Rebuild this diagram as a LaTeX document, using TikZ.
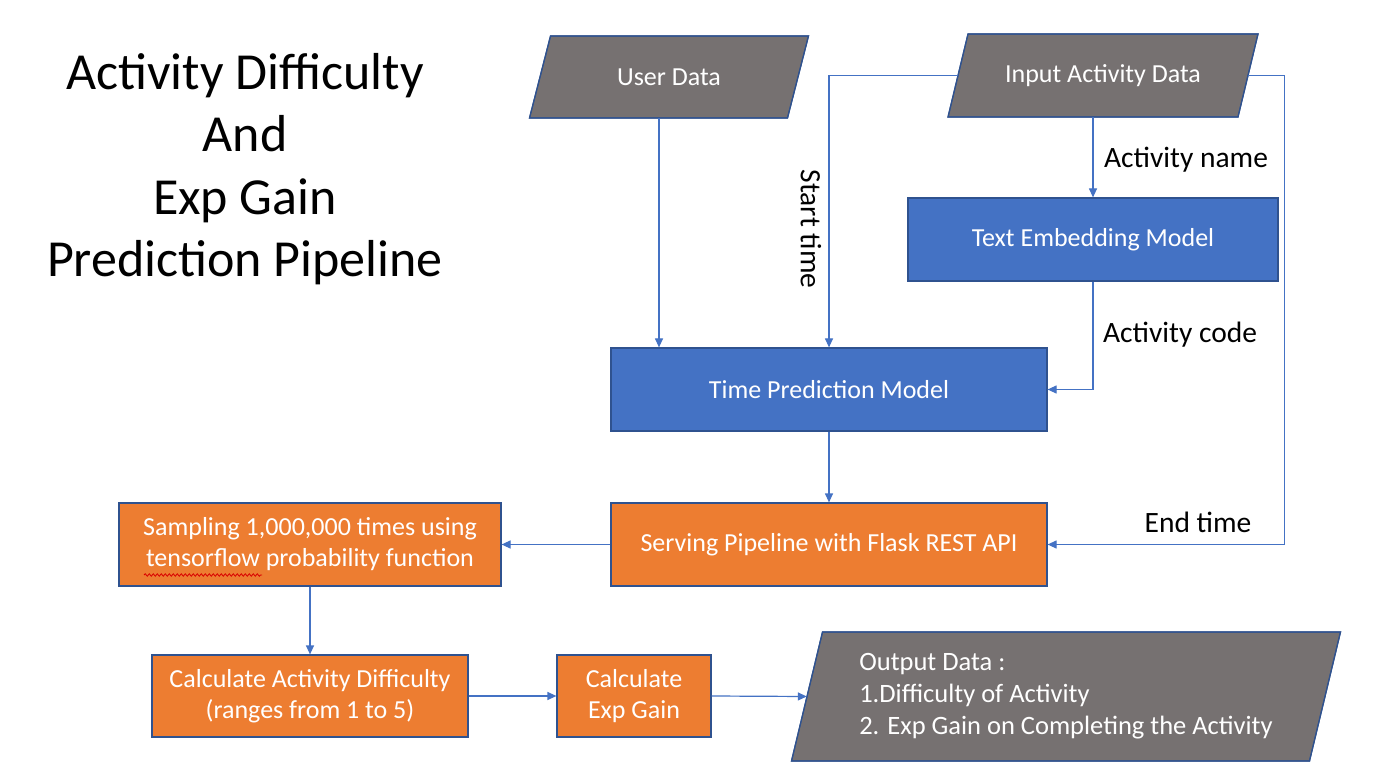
\documentclass[tikz,border=0pt]{standalone}
\usepackage{fontspec}
\setmainfont{Carlito}
\usetikzlibrary{arrows.meta,calc,decorations.pathmorphing}
\definecolor{pgray}{HTML}{767171}
\definecolor{pblue}{HTML}{4472C4}
\definecolor{porange}{HTML}{ED7D31}
\definecolor{pedge}{HTML}{2F528F}
\tikzset{
  boxtext/.style={text=white,font=\fontsize{26}{31}\selectfont,align=center,inner sep=0pt},
  bluebox/.style={boxtext,fill=pblue,draw=pedge,line width=1.2pt},
  orangebox/.style={boxtext,fill=porange,draw=pedge,line width=1.2pt},
  paratext/.style={boxtext,draw=none},
  parashape/.style={fill=pgray,draw=pedge,line width=1.2pt},
  conn/.style={draw=pblue,line width=1.2pt},
  arr/.style={conn,-{Triangle[length=9pt,width=8pt]}},
  lbl/.style={text=black,font=\fontsize{29.5}{34}\selectfont,inner sep=0pt},
}
% \paranode{name}{cx}{cy}{w}{h}{slant}{text}{options}
\newcommand{\paranode}[8]{%
  \fill[parashape] (#2-#4/2-#6/2,#3+#5/2) -- (#2+#4/2-#6/2,#3+#5/2) -- (#2+#4/2+#6/2,#3-#5/2) -- (#2-#4/2+#6/2,#3-#5/2) -- cycle;
  \draw[parashape,fill=none] (#2-#4/2-#6/2,#3+#5/2) -- (#2+#4/2-#6/2,#3+#5/2) -- (#2+#4/2+#6/2,#3-#5/2) -- (#2-#4/2+#6/2,#3-#5/2) -- cycle;
  \node[paratext,minimum width=#4,minimum height=#5,#8] (#1) at (#2,#3) {#7};%
}
\begin{document}
\begin{tikzpicture}[x=1pt,y=-1pt]
\useasboundingbox (0,0) rectangle (1387,783);
\fill[white] (0,0) rectangle (1387,783);

% title
\node[text=black,font=\fontsize{52}{62.5}\selectfont,align=center,inner sep=0pt] (title) at (245,169)
  {Activity Difficulty\\And\\Exp Gain\\Prediction Pipeline};

% parallelograms
\paranode{ud}{669}{77}{258}{82}{21}{\raisebox{-2pt}{User Data}}{}
\paranode{ia}{1103}{75.5}{290}{83}{20}{\raisebox{-2pt}{Input Activity Data}}{}
\paranode{out}{1066}{696.5}{518}{129}{31}{\fontsize{26.5}{32}\selectfont\begin{tabular}{@{}l@{}}Output Data :\\1.Difficulty of Activity\\2. Exp Gain on Completing the Activity\end{tabular}}{}

% boxes
\node[bluebox,minimum width=370,minimum height=83] (te) at (1093,239.5) {\raisebox{-2pt}{Text Embedding Model}};
\node[bluebox,minimum width=436,minimum height=83] (tp) at (829,389.5) {\raisebox{-1.5pt}{Time Prediction Model}};
\node[orangebox,minimum width=436,minimum height=83] (sp) at (829,544.5) {\raisebox{-1.5pt}{Serving Pipeline with Flask REST API}};
\node[orangebox,minimum width=382,minimum height=83] (sa) at (310,544.5) {Sampling 1,000,000 times using\\tensorflow probability function};
\node[orangebox,minimum width=316,minimum height=82] (cd) at (310,696) {Calculate Activity Difficulty\\(ranges from 1 to 5)};
\node[orangebox,minimum width=154,minimum height=82] (eg) at (634,696) {Calculate\\Exp Gain};

% spell-check squiggle
\draw[red!85!black,line width=0.8pt,decorate,decoration={snake,amplitude=1.2pt,segment length=4pt}] (144,575) -- (262,575);

% connectors
\coordinate (udout) at ($(ud.south)+(-10,0)$);
\draw[arr] (udout) -- (udout |- tp.north);
\draw[arr] (ia.west) -| (tp.north);
\coordinate (rc) at ($(ia.east)+(36,0)$);
\draw[arr] (ia.east) -- (rc) |- (sp.east);
\draw[arr] (te.north |- ia.south) -- (te.north);
\draw[arr] (te.south) |- (tp.east);
\draw[arr] (tp.south) -- (sp.north);
\draw[arr] (sp.west) -- (sa.east);
\draw[arr] (sa.south) -- (cd.north);
\draw[arr] (cd.east) -- (eg.west);
\draw[arr] (eg.east) -- (out.west);

% labels
\node[lbl] (lname) at (1186,160) {Activity name};
\node[lbl] (lcode) at (1180,335) {Activity code};
\node[lbl] (lend) at (1198,522) {End time};
\node[lbl,rotate=-90] (lstart) at (811,229) {Start time};
\end{tikzpicture}
\end{document}
